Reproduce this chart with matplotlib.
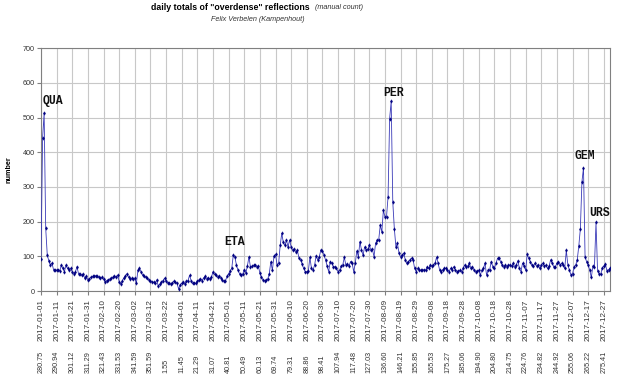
import matplotlib.pyplot as plt
import numpy as np
import pandas as pd

plt.rcParams['font.family'] = ['Liberation Sans', 'DejaVu Sans']

# daily counts 2017
jan = [92, 440, 513, 181, 104, 87, 75, 80, 62, 60, 60, 62, 58, 75, 65, 56, 75, 65, 60, 65,
       56, 50, 55, 70, 50, 48, 46, 48, 37, 43, 32]
feb = [36, 40, 42, 43, 44, 42, 40, 37, 40, 35, 27, 30, 32, 35, 37, 40, 43, 40, 46, 27,
       20, 30, 38, 44, 50, 40, 35, 37]
mar = [36, 37, 22, 60, 65, 55, 46, 43, 40, 37, 32, 30, 27, 25, 22, 32, 14, 20, 26, 30,
       37, 28, 24, 22, 20, 24, 28, 26, 22, 6, 18]
apr = [22, 25, 20, 28, 30, 45, 30, 22, 24, 22, 28, 32, 35, 30, 38, 42, 36, 38, 35, 40,
       55, 48, 45, 40, 44, 38, 32, 28, 30, 42]
may = [50, 58, 65, 104, 98, 75, 60, 50, 45, 48, 62, 52, 72, 98, 68, 72, 74, 76, 70, 72,
       52, 40, 32, 30, 32, 34, 50, 84, 60, 100, 106]
jun = [75, 80, 132, 166, 140, 132, 147, 127, 147, 127, 118, 120, 113, 117, 95, 90, 78, 65, 56, 56,
       58, 97, 65, 60, 75, 102, 90, 99, 118, 115]
jul = [104, 90, 72, 56, 85, 80, 70, 70, 65, 56, 60, 72, 75, 97, 75, 78, 72, 85, 80, 56,
       80, 115, 99, 142, 118, 104, 127, 118, 120, 132, 118]
aug = [120, 99, 137, 147, 147, 190, 170, 233, 214, 214, 272, 497, 547, 257, 180, 128, 137, 109, 99, 104,
       109, 90, 80, 85, 90, 95, 90, 65, 56, 65, 62]
sep = [60, 60, 62, 60, 70, 65, 75, 72, 75, 80, 97, 80, 60, 56, 62, 65, 65, 60, 56, 65,
       62, 70, 62, 56, 58, 60, 56, 65, 75, 70]
oct = [72, 80, 65, 70, 60, 56, 58, 60, 46, 60, 65, 80, 46, 60, 62, 85, 70, 65, 80, 94,
       94, 85, 75, 70, 75, 70, 75, 75, 72, 80, 70]
nov = [75, 87, 65, 56, 80, 72, 60, 106, 94, 85, 75, 72, 80, 72, 75, 65, 75, 80, 72, 75,
       65, 72, 90, 80, 70, 70, 80, 85, 75, 80]
dec = [75, 65, 117, 75, 60, 46, 50, 70, 75, 90, 130, 180, 315, 355, 99, 84, 75, 60, 39, 72,
       70, 198, 58, 50, 48, 67, 72, 78, 58, 62, 65]

counts = jan + feb + mar + apr + may + jun + jul + aug + sep + oct + nov + dec
days = pd.date_range('2017-01-01', periods=len(counts))

tick_dates = ['2017-01-01', '2017-01-11', '2017-01-21', '2017-01-31', '2017-02-10', '2017-02-20',
              '2017-03-02', '2017-03-12', '2017-03-22', '2017-04-01', '2017-04-11', '2017-04-21',
              '2017-05-01', '2017-05-11', '2017-05-21', '2017-05-31', '2017-06-10', '2017-06-20',
              '2017-06-30', '2017-07-10', '2017-07-20', '2017-07-30', '2017-08-09', '2017-08-19',
              '2017-08-29', '2017-09-08', '2017-09-18', '2017-09-28', '2017-10-08', '2017-10-18',
              '2017-10-28', '2017-11-07', '2017-11-17', '2017-11-27', '2017-12-07', '2017-12-17',
              '2017-12-27']
sol_long = ['280.75', '290.94', '301.12', '311.29', '321.43', '331.53', '341.59', '351.59', '1.55',
            '11.45', '21.29', '31.07', '40.81', '50.49', '60.13', '69.74', '79.31', '88.86',
            '98.41', '107.94', '117.48', '127.03', '136.60', '146.21', '155.85', '165.53', '175.27',
            '185.06', '194.90', '204.80', '214.75', '224.76', '234.82', '244.92', '255.06',
            '265.22', '275.41']

showers = ['QUA', 'ETA', 'PER', 'GEM', 'URS']

x = np.arange(len(counts))
tick_pos = [days.get_loc(pd.Timestamp(d)) for d in tick_dates]

fig = plt.figure(figsize=(6.27, 3.76), dpi=100)
ax = fig.add_axes([0.0654, 0.226, 0.9076, 0.646])

ax.plot(x, counts, color='#3a3ab8', lw=0.6, marker='d', ms=1.8, mfc='#000080', mec='#000080',
        mew=0.3, zorder=3)

ax.set_xlim(0, 364)
ax.set_ylim(0, 700)
ax.set_yticks(range(0, 701, 100))
ax.set_xticks(tick_pos)
ax.set_xticklabels(tick_dates, rotation=90, fontsize=5.9, color='#333333')
ax.tick_params(axis='y', labelsize=5.2, length=3, color='#808080', labelcolor='#333333', pad=1.5)
ax.tick_params(axis='x', length=3, color='#808080', pad=3)
ax.grid(True, color='#c8c8c8', lw=0.8)
ax.set_axisbelow(True)
for s in ax.spines.values():
    s.set_color('#808080')
    s.set_linewidth(0.8)

ax.set_ylabel('number', fontsize=5.2, fontweight='bold', labelpad=7)

# second row of labels: solar longitude
for p, s in zip(tick_pos, sol_long):
    ax.text(p, -0.337, s, transform=ax.get_xaxis_transform(), rotation=90,
            ha='center', va='bottom', fontsize=5.2, color='#333333', clip_on=False)

# shower names
mono = dict(family='Liberation Mono', fontweight='bold', fontsize=8.3, color='#111111')
ax.text(1, 548, showers[0], ha='left', va='center', **mono)
ax.text(123.5, 141, showers[1], ha='center', va='center', **mono)
ax.text(225.3, 572, showers[2], ha='center', va='center', **mono)
ax.text(348, 390, showers[3], ha='center', va='center', **mono)
ax.text(357.5, 224, showers[4], ha='center', va='center', **mono)

fig.text(0.494, 0.981, 'daily totals of "overdense" reflections', ha='right', va='center',
         fontsize=6.3, fontweight='bold')
fig.text(0.502, 0.981, '(manual count)', ha='left', va='center', fontsize=5.2, style='italic',
         color='#333333')
fig.text(0.411, 0.949, 'Felix Verbelen (Kampenhout)', ha='center', va='center', fontsize=5.2,
         style='italic', color='#333333')

fig.savefig('out.png', dpi=100)
